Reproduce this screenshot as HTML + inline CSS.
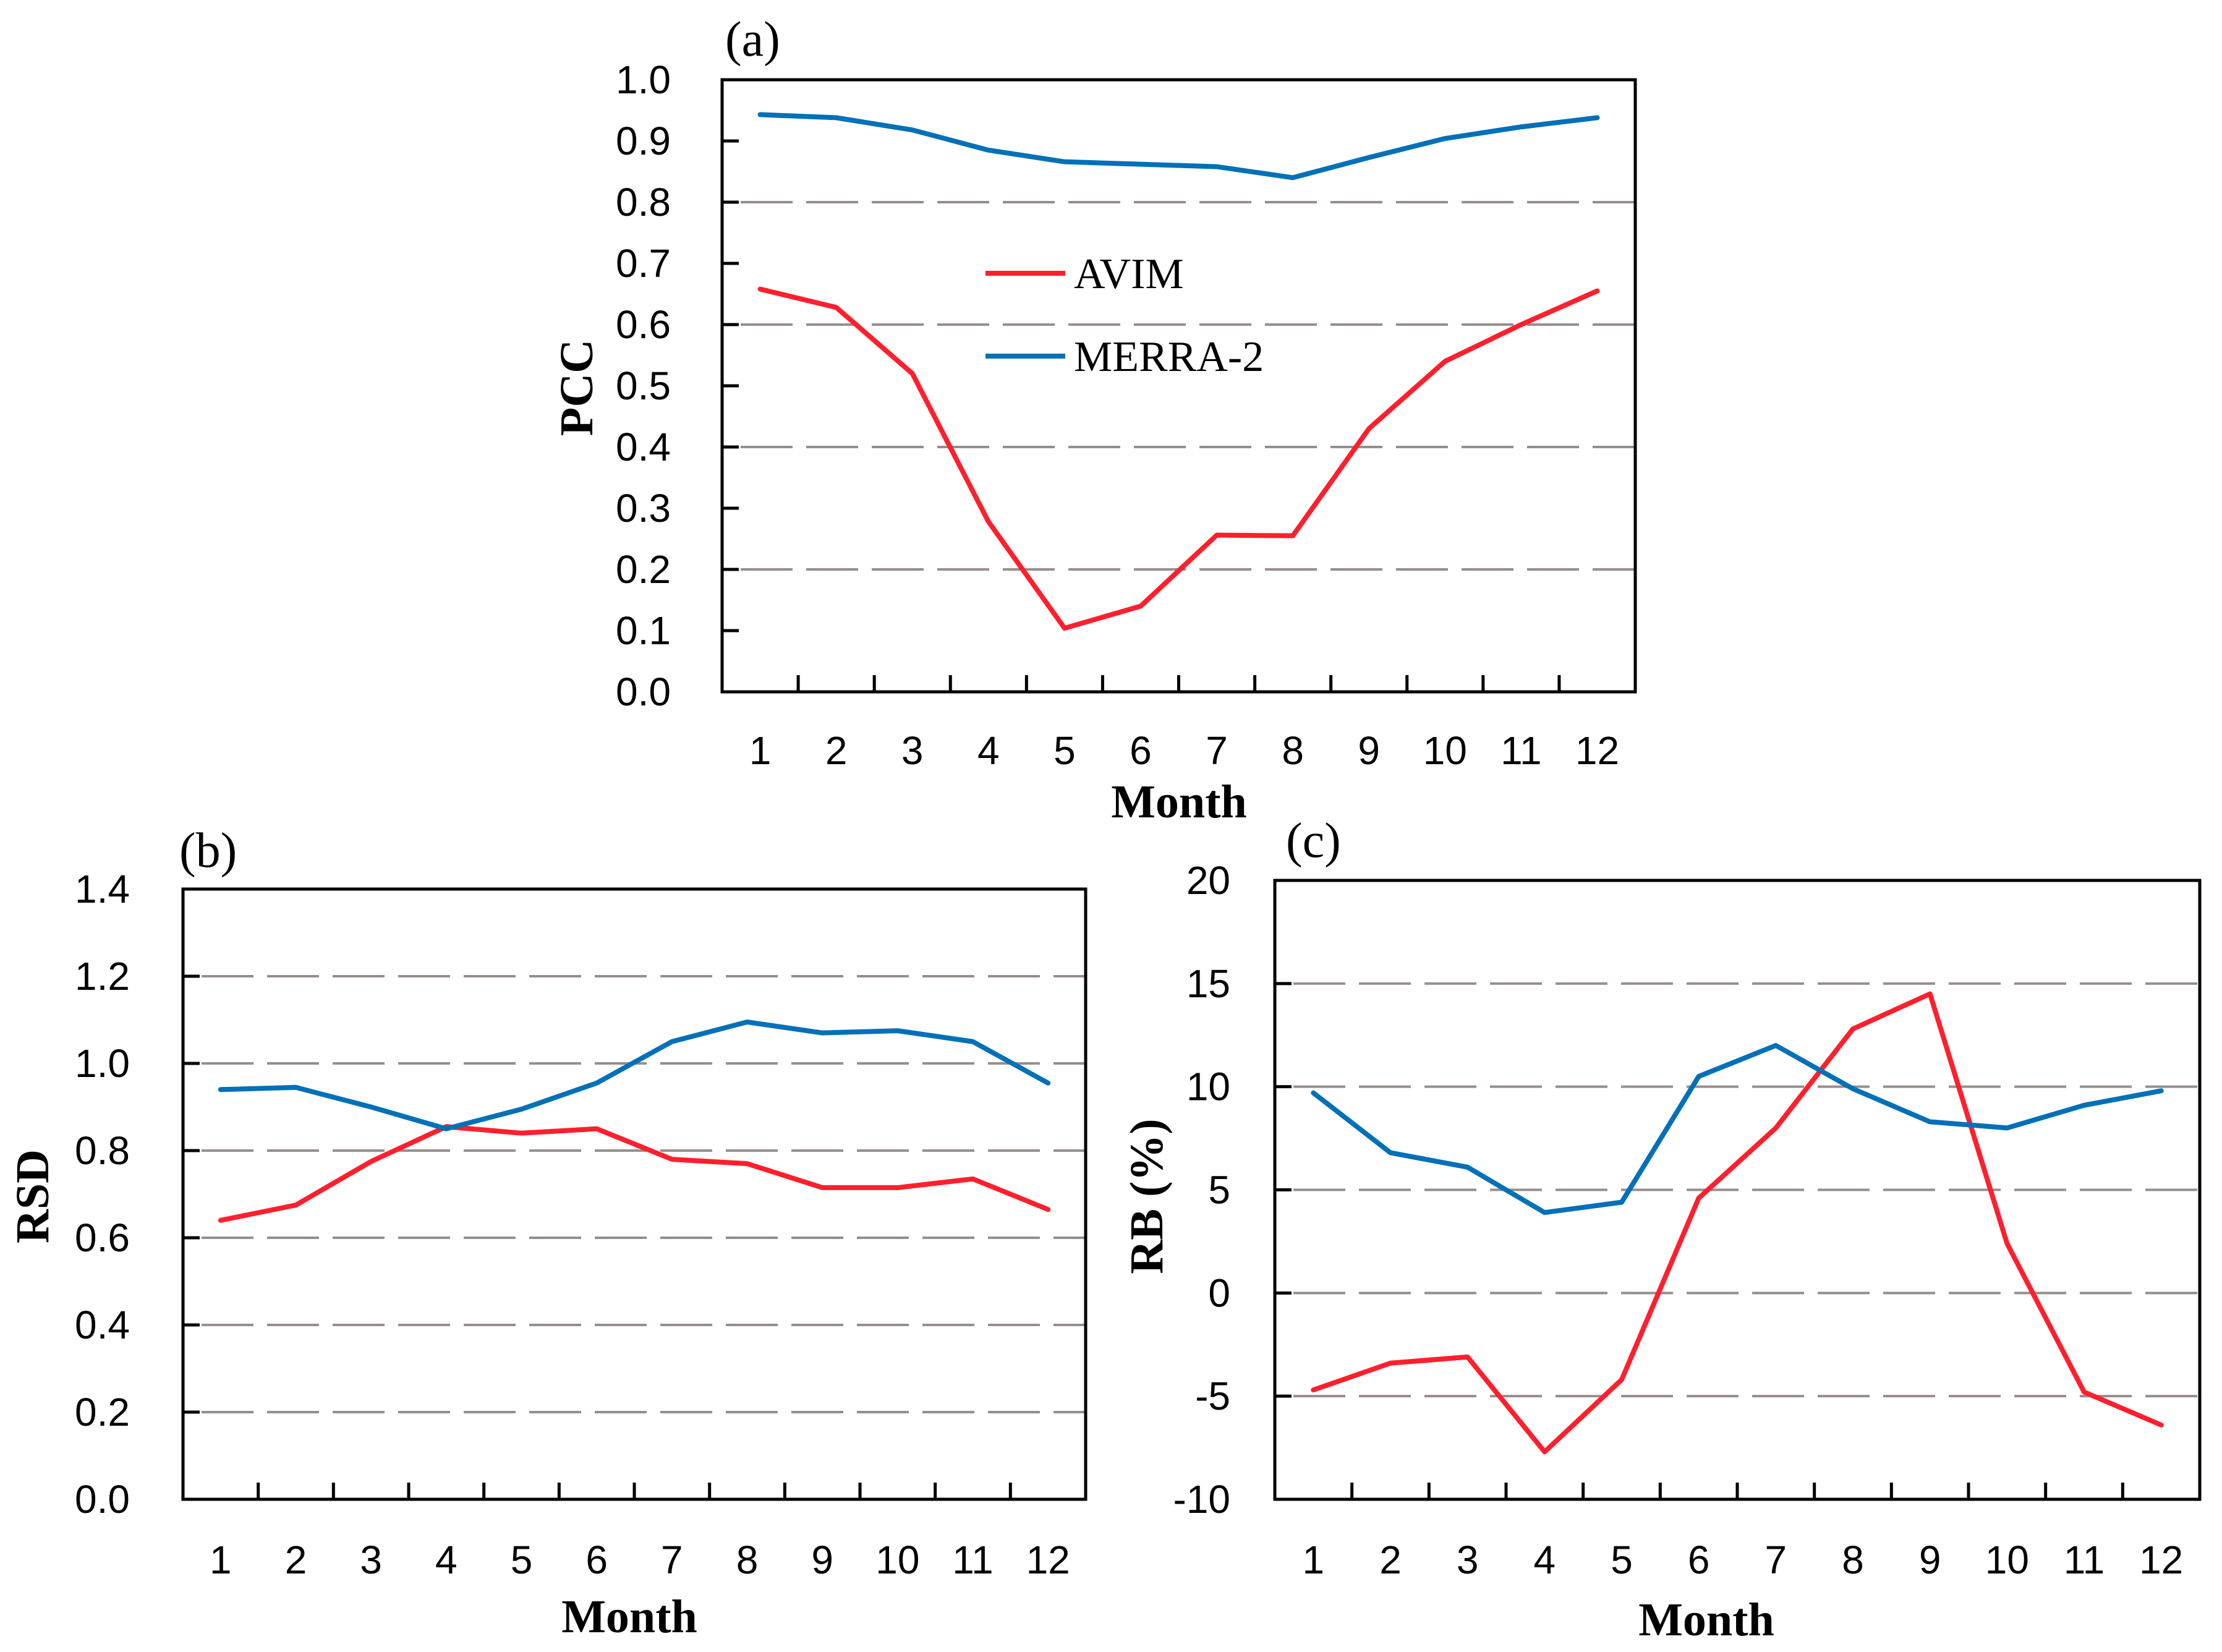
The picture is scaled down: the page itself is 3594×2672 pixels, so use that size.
<!DOCTYPE html>
<html><head><meta charset="utf-8"><style>
html,body{margin:0;padding:0;background:#fff;}
svg{display:block;}
</style></head><body>
<svg id="fig" width="3594" height="2672" viewBox="0 0 3594 2672" xmlns="http://www.w3.org/2000/svg"></svg>
<script>
const months = [1,2,3,4,5,6,7,8,9,10,11,12];
const pccMerra = [0.943,0.938,0.918,0.885,0.866,0.862,0.858,0.840,0.873,0.904,0.923,0.938];
const pccAvim  = [0.658,0.628,0.520,0.278,0.104,0.140,0.256,0.255,0.430,0.540,0.600,0.655];
const rsdMerra = [0.94,0.945,0.90,0.85,0.895,0.955,1.05,1.095,1.07,1.075,1.05,0.955];
const rsdAvim  = [0.64,0.675,0.775,0.855,0.84,0.85,0.78,0.77,0.715,0.715,0.735,0.665];
const rbMerra  = [9.7,6.8,6.1,3.9,4.4,10.5,12.0,9.9,8.3,8.0,9.1,9.8];
const rbAvim   = [-4.7,-3.4,-3.1,-7.7,-4.2,4.6,8.0,12.8,14.5,2.4,-4.8,-6.4];
const pccTicks = [0,0.1,0.2,0.3,0.4,0.5,0.6,0.7,0.8,0.9,1.0];
const pccGrid = [0.2,0.4,0.6,0.8];
const rsdTicks = [0,0.2,0.4,0.6,0.8,1.0,1.2,1.4];
const rsdGrid = [0.2,0.4,0.6,0.8,1.0,1.2];
const rbTicks = [-10,-5,0,5,10,15,20];
const rbGrid = [-5,0,5,10,15];

const NS="http://www.w3.org/2000/svg";
const svg=document.getElementById('fig');
function mk(tag,attrs,parent,text){const e=document.createElementNS(NS,tag);for(const k in attrs)e.setAttribute(k,attrs[k]);if(text!==undefined)e.textContent=text;(parent||svg).appendChild(e);return e;}

function panel(o){
  const g=mk('g',{});
  
  
  const {L,R,T,B,ymin,ymax}=o;
  const xs=i=>L+(R-L)/12*(i+0.5);
  const ys=v=>B-(v-ymin)/(ymax-ymin)*(B-T);
  o.grid.forEach(v=>{
    const l=mk('line',{x1:L+30,x2:R,y1:ys(v),y2:ys(v),stroke:'#978e8c','stroke-width':4,'stroke-dasharray':'84 22'},g);
    
    
  });
  o.ticks.forEach(v=>{
    const t=mk('line',{x1:L,x2:L+27,y1:ys(v),y2:ys(v),stroke:'#000','stroke-width':5},g);
    
    
    const tx=mk('text',{x:o.labX,y:ys(v)+22,'text-anchor':'end','font-family':'"Liberation Sans Narrow","Liberation Sans",sans-serif','font-size':64},g,o.fmt(v));
    
    
  });
  for(let i=1;i<12;i++){
    const x=L+(R-L)/12*i;
    const t=mk('line',{x1:x,x2:x,y1:B,y2:B-27,stroke:'#000','stroke-width':5},g);
    
    
  }
  months.forEach((m,i)=>{
    const t=mk('text',{x:xs(i),y:o.monY,'text-anchor':'middle','font-family':'"Liberation Sans Narrow","Liberation Sans",sans-serif','font-size':64},g,String(m));
    
    
  });
  const fr=mk('rect',{x:L,y:T,width:R-L,height:B-T,fill:'none',stroke:'#000','stroke-width':5},g);
  
  
  [[o.avim,'#ff1f2d','avim-line'],[o.merra,'#0070b8','merra2-line']].forEach(([d,c,n])=>{
    const p=mk('polyline',{points:d.map((v,i)=>xs(i)+','+ys(v)).join(' '),fill:'none',stroke:c,'stroke-width':8,'stroke-linejoin':'round','stroke-linecap':'round'},g);
    
    
  });
  const mt=mk('text',{x:o.monTX,y:o.monTY,'text-anchor':'middle','font-family':'"Liberation Serif",serif','font-weight':'bold','font-size':76},g,'Month');
  
  
  const yt=mk('text',{x:0,y:0,transform:`translate(${o.ytX},${o.ytY}) rotate(-90)`,'text-anchor':'middle','font-family':'"Liberation Serif",serif','font-weight':'bold','font-size':76},g,o.ytitle);
  
  
  const pl=mk('text',{x:o.plX,y:o.plY,'font-family':'"Liberation Serif",serif','font-size':80},g,o.plab);
  
  
}

panel({name:'panel-a-pcc',L:1168,R:2645,T:129,B:1119,ymin:0,ymax:1,grid:pccGrid,ticks:pccTicks,fmt:v=>v.toFixed(1),labX:1085,monY:1236,merra:pccMerra,avim:pccAvim,monTX:1907,monTY:1322,ytitle:'PCC',ytX:958,ytY:627,plab:'(a)',plX:1173,plY:90});
panel({name:'panel-b-rsd',L:296,R:1756,T:1438,B:2425,ymin:0,ymax:1.4,grid:rsdGrid,ticks:rsdTicks,fmt:v=>v.toFixed(1),labX:210,monY:2545,merra:rsdMerra,avim:rsdAvim,monTX:1018,monTY:2640,ytitle:'RSD',ytX:78,ytY:1935,plab:'(b)',plX:290,plY:1402});
panel({name:'panel-c-rb',L:2062,R:3558,T:1424,B:2425,ymin:-10,ymax:20,grid:rbGrid,ticks:rbTicks,fmt:v=>String(v),labX:1990,monY:2545,merra:rbMerra,avim:rbAvim,monTX:2760,monTY:2645,ytitle:'RB (%)',ytX:1880,ytY:1935,plab:'(c)',plX:2080,plY:1386});

// legend in panel (a)
const lg=mk('g',{});


[['AVIM','#ff1f2d',442],['MERRA-2','#0070b8',576]].forEach(([t,c,y])=>{
  const e=mk('g',{},lg);
  
  
  mk('line',{x1:1594,x2:1723,y1:y,y2:y,stroke:c,'stroke-width':8},e);
  mk('text',{x:1737,y:y+24,'font-family':'"Liberation Serif",serif','font-size':70},e,t);
});
</script>
</body></html>
